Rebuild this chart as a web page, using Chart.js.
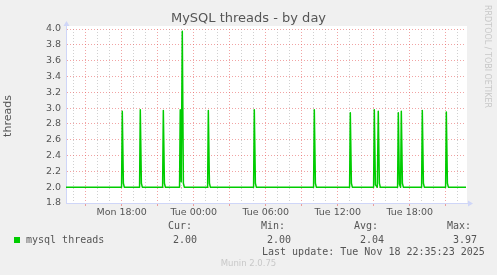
<!DOCTYPE html>
<html lang="en">

<head>
    <meta charset="UTF-8">
    <title>MySQL threads - by day</title>
    <script src="https://cdn.jsdelivr.net/npm/chart.js"></script>
    <style>
        body { margin: 0; background: #f0f0f0; }
        #wrap { position: relative; width: 497px; height: 275px; overflow: hidden; }
        #wrap canvas { position: absolute; left: 0; top: 0; }
        .txt { position: absolute; white-space: pre; color: #555; }
        .title { left: 0; top: 10px; width: 497px; text-align: center; font: 13px/15px "DejaVu Sans", sans-serif; }
        .mono { font: 10px/12px "DejaVu Sans Mono", monospace; }
        .swatch { position: absolute; left: 14px; top: 237px; width: 6px; height: 6px; background: #00cc00; }
        .footer { left: 0; top: 257px; width: 497px; text-align: center; font: 8.5px/12px "DejaVu Sans", sans-serif; color: #c8c8c8; }
        .rrd { left: 482px; top: 5px; writing-mode: vertical-rl; font: 8px/10px "DejaVu Sans", sans-serif; color: #c8c8c8; }
    </style>
</head>

<body>
    <div id="wrap">
        <canvas id="threadsChart" width="497" height="275"></canvas>

        <div class="txt title">MySQL threads - by day</div>
        <div class="txt rrd">RRDTOOL / TOBI OETIKER</div>

        <!-- legend, munin style -->
        <div class="txt mono" style="left:168px; top:220px;">Cur:</div>
        <div class="txt mono" style="left:261px; top:220px;">Min:</div>
        <div class="txt mono" style="left:354px; top:220px;">Avg:</div>
        <div class="txt mono" style="left:447px; top:220px;">Max:</div>
        <div class="swatch"></div>
        <div class="txt mono" style="left:26px; top:234px;">mysql threads</div>
        <div class="txt mono" style="left:173px; top:234px;">2.00</div>
        <div class="txt mono" style="left:267px; top:234px;">2.00</div>
        <div class="txt mono" style="left:360px; top:234px;">2.04</div>
        <div class="txt mono" style="left:453px; top:234px;">3.97</div>
        <div class="txt mono" style="left:262px; top:246px;">Last update: Tue Nov 18 22:35:23 2025</div>
        <div class="txt footer">Munin 2.0.75</div>
    </div>

    <script>
        // hours counted from Mon 00:00, one sample every 5 minutes around each spike
        const sampleHours = [
            13.36,
            17.99, 18.05, 18.14, 18.22,
            19.49, 19.55, 19.64, 19.72,
            21.41, 21.47, 21.56, 21.64,
            22.82, 22.88, 22.96, 23.05, 23.14, 23.22,
            25.16, 25.22, 25.31, 25.39,
            28.99, 29.05, 29.14, 29.22,
            33.99, 34.05, 34.14, 34.22,
            36.99, 37.05, 37.14, 37.22,
            38.99, 39.05, 39.14, 39.30, 39.38, 39.47, 39.55,
            40.99, 41.05, 41.14, 41.24, 41.30, 41.39, 41.47,
            42.99, 43.05, 43.14, 43.22,
            44.99, 45.05, 45.14, 45.22,
            46.69
        ];
        const threadValues = [
            2.00,
            2.00, 2.96, 2.05, 2.00,
            2.00, 2.98, 2.05, 2.00,
            2.00, 2.97, 2.05, 2.00,
            2.00, 2.98, 2.07, 3.97, 2.05, 2.00,
            2.00, 2.97, 2.05, 2.00,
            2.00, 2.98, 2.05, 2.00,
            2.00, 2.98, 2.05, 2.00,
            2.00, 2.94, 2.05, 2.00,
            2.00, 2.98, 2.03, 2.00, 2.96, 2.05, 2.00,
            2.00, 2.94, 2.04, 2.00, 2.96, 2.05, 2.00,
            2.00, 2.97, 2.05, 2.00,
            2.00, 2.95, 2.05, 2.00,
            2.00
        ];
        // x axis labels
        const tickHours = [18, 24, 30, 36, 42];
        const tickNames = ['Mon 18:00', 'Tue 00:00', 'Tue 06:00', 'Tue 12:00', 'Tue 18:00'];

        const GRID = 'rgba(150,150,150,0.45)';
        const MGRID = 'rgba(230,90,90,0.55)';
        const AXIS = '#cfd6f8';

        // white plot area + axis arrows
        const muninFrame = {
            id: 'muninFrame',
            beforeDraw(chart) {
                const a = chart.chartArea, c = chart.ctx;
                c.save();
                c.fillStyle = '#ffffff';
                c.fillRect(a.left, a.top - 3, a.right - a.left + 1, a.bottom - a.top + 3);
                c.restore();
            },
            afterDraw(chart) {
                const a = chart.chartArea, c = chart.ctx;
                c.save();
                c.strokeStyle = AXIS;
                c.fillStyle = AXIS;
                c.lineWidth = 1;
                c.beginPath();
                c.moveTo(a.left + 0.5, a.top);
                c.lineTo(a.left + 0.5, a.top - 5);
                c.moveTo(a.right, a.bottom + 0.5);
                c.lineTo(a.right + 4, a.bottom + 0.5);
                c.stroke();
                c.beginPath();
                c.moveTo(a.left + 0.5, a.top - 8);
                c.lineTo(a.left - 2.5, a.top - 3);
                c.lineTo(a.left + 3.5, a.top - 3);
                c.fill();
                c.beginPath();
                c.moveTo(a.right + 7, a.bottom + 0.5);
                c.lineTo(a.right + 2, a.bottom - 2.5);
                c.lineTo(a.right + 2, a.bottom + 3.5);
                c.fill();
                c.restore();
            }
        };

        const points = sampleHours.map((h, i) => ({ x: h, y: threadValues[i] }));

        const isMajorY = v => Math.round(v * 10) % 2 === 0;

        new Chart(document.getElementById('threadsChart'), {
            type: 'line',
            data: {
                datasets: [{
                    label: 'mysql threads',
                    data: points,
                    borderColor: '#00cc00',
                    borderWidth: 1.5,
                    borderJoinStyle: 'round',
                    pointRadius: 0,
                    tension: 0,
                    fill: false
                }]
            },
            options: {
                responsive: false,
                animation: false,
                layout: { padding: { left: 0, top: 29, right: 31, bottom: 0 } },
                plugins: { legend: { display: false }, tooltip: { enabled: false } },
                scales: {
                    x: {
                        type: 'linear',
                        min: 13.36,
                        max: 46.69,
                        afterFit: s => { s.height = 72; },
                        border: { color: AXIS, width: 1, dash: [1, 2] },
                        grid: {
                            color: c => (c.tick && c.tick.value % 3 === 0) ? MGRID : GRID,
                            tickColor: c => (c.tick && c.tick.value % 3 === 0) ? MGRID : 'rgba(0,0,0,0)',
                            tickLength: 3,
                            lineWidth: 1
                        },
                        ticks: {
                            stepSize: 1,
                            includeBounds: false,
                            autoSkip: false,
                            maxRotation: 0,
                            padding: 1,
                            color: '#555',
                            font: { family: 'DejaVu Sans', size: 9.5 },
                            callback: v => {
                                const i = tickHours.indexOf(v);
                                return i >= 0 ? tickNames[i] : '';
                            }
                        }
                    },
                    y: {
                        min: 1.8,
                        max: 4.0,
                        afterFit: s => { s.width = 66; },
                        border: { color: AXIS, width: 1, dash: [1, 2] },
                        grid: {
                            color: c => (c.tick && isMajorY(c.tick.value)) ? MGRID : GRID,
                            drawTicks: false,
                            lineWidth: 1
                        },
                        title: {
                            display: true,
                            text: 'threads',
                            color: '#555',
                            padding: { top: 2, bottom: 0 },
                            font: { family: 'DejaVu Sans', size: 11 }
                        },
                        ticks: {
                            stepSize: 0.1,
                            padding: 5,
                            color: '#555',
                            font: { family: 'DejaVu Sans', size: 9.5 },
                            callback: v => isMajorY(v) ? v.toFixed(1) : ''
                        }
                    }
                }
            },
            plugins: [muninFrame]
        });
    </script>
</body>

</html>
